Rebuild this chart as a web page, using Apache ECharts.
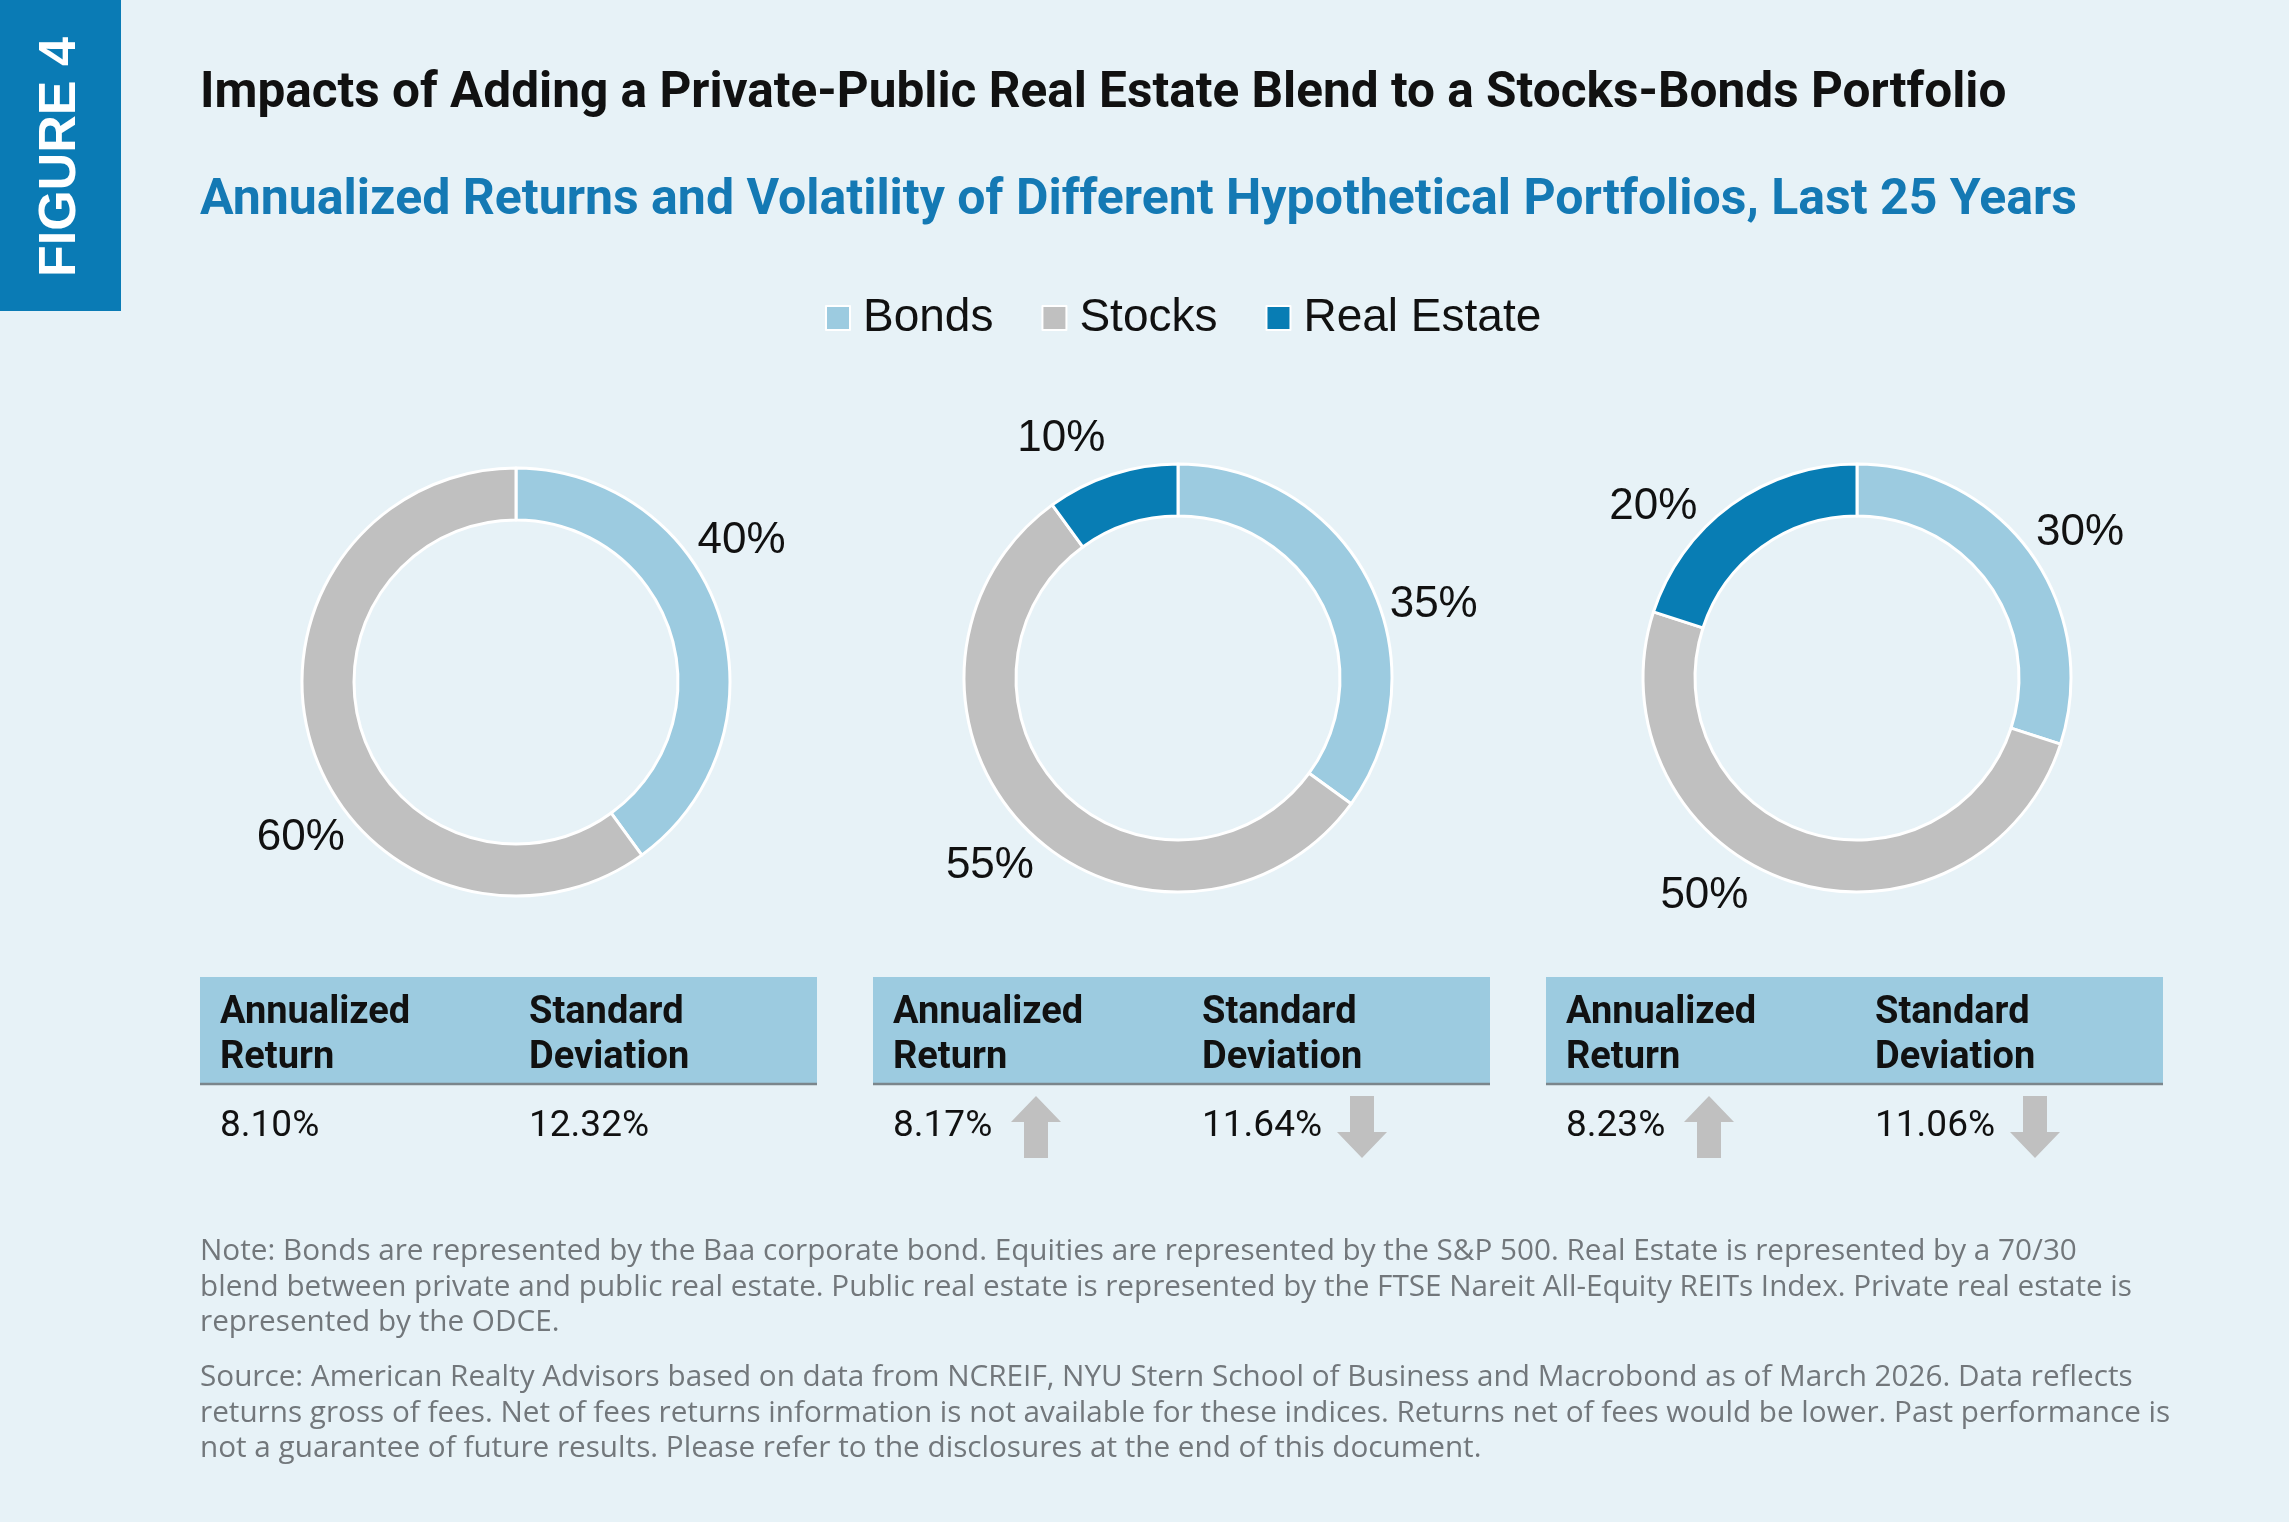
<!DOCTYPE html>
<html>
<head>
<meta charset="utf-8">
<script src="https://cdn.jsdelivr.net/npm/echarts@6/dist/echarts.min.js"></script>
<style>
html,body{margin:0;padding:0;background:#e7f2f7;}
#chart{width:2289px;height:1522px;}
</style>
</head>
<body>
<div id="chart"></div>
<script>
// ---------------- DATA ----------------
const categories = ['Bonds', 'Stocks', 'Real Estate'];
const portfolioNames = ['Stocks-Bonds', 'Stocks-Bonds-Real Estate 10%', 'Stocks-Bonds-Real Estate 20%'];
const bondsWeight = [40, 35, 30];
const stocksWeight = [60, 55, 50];
const realEstateWeight = [0, 10, 20];
const annualizedReturn = [8.10, 8.17, 8.23];
const standardDeviation = [12.32, 11.64, 11.06];
const tableHeaders = [['Annualized', 'Return'], ['Standard', 'Deviation']];

const figureLabel = 'FIGURE 4';
const titleText = 'Impacts of Adding a Private-Public Real Estate Blend to a Stocks-Bonds Portfolio';
const subtitleText = 'Annualized Returns and Volatility of Different Hypothetical Portfolios, Last 25 Years';
const noteLines = [
  'Note: Bonds are represented by the Baa corporate bond. Equities are represented by the S&P 500. Real Estate is represented by a 70/30',
  'blend between private and public real estate. Public real estate is represented by the FTSE Nareit All-Equity REITs Index. Private real estate is',
  'represented by the ODCE.'
];
const sourceLines = [
  'Source: American Realty Advisors based on data from NCREIF, NYU Stern School of Business and Macrobond as of March 2026. Data reflects',
  'returns gross of fees. Net of fees returns information is not available for these indices. Returns net of fees would be lower. Past performance is',
  'not a guarantee of future results. Please refer to the disclosures at the end of this document.'
];

// ---------------- STYLE / LAYOUT ----------------
const colors = { 'Bonds': '#9ccbe0', 'Stocks': '#c0c0c0', 'Real Estate': '#087db4' };
const weights = { 'Bonds': bondsWeight, 'Stocks': stocksWeight, 'Real Estate': realEstateWeight };
const BG = '#e7f2f7';
const BLUE = '#0a7bb5';
const pieCenters = [[516, 682], [1178, 678], [1857, 678]];
const innerR = 162, outerR = 214, labelR = 266;
// small angular nudges (degrees) of each percentage label from its slice's mid-angle
const labelNudge = {
  'Bonds': [-14, 11, 3],
  'Stocks': [-18, 0, 17],
  'Real Estate': [0, -8, -14]
};
const tableLeft = [200, 873, 1546];
const tableWidth = 617;
const tableTop = 977, tableBottom = 1084;

// font fitting helpers
const cv = document.createElement('canvas').getContext('2d');
function textW(t, font) { cv.font = font; return cv.measureText(t).width; }
function fit(t, weight, fam, target) { return 100 * target / textW(t, weight + ' 100px ' + fam); }
const titleFam = 'Roboto';
const titleSize = Math.min(50, fit(titleText, '700', titleFam, 1807));
const subSize = Math.min(50, fit(subtitleText, '700', titleFam, 1880));
const noteFam = '"Open Sans"';
const noteSize = Math.min(32, fit(noteLines[1], '400', noteFam, 1933));

// ---------------- SERIES ----------------
const series = [];
portfolioNames.forEach((pname, i) => {
  const data = categories
    .map(c => ({ name: c, value: weights[c][i], itemStyle: { color: colors[c] } }))
    .filter(d => d.value > 0);
  const total = data.reduce((s, d) => s + d.value, 0);
  // mid-angle (deg, clockwise from 12 o'clock) of every slice, derived from the data
  let acc = 0;
  const midAngles = data.map(d => { const m = (acc + d.value / 2) / total * 360; acc += d.value; return m; });
  const cx = pieCenters[i][0], cy = pieCenters[i][1];
  series.push({
    type: 'pie', name: pname, center: pieCenters[i], radius: [innerR, outerR],
    startAngle: 90, clockwise: true, avoidLabelOverlap: false,
    itemStyle: { borderColor: '#ffffff', borderWidth: 3 },
    label: {
      show: true, position: 'inside', formatter: p => p.value + '%',
      fontSize: 44, fontFamily: '"Liberation Sans", Arial, sans-serif', color: '#111111'
    },
    labelLine: { show: false },
    labelLayout: function (params) {
      const d = data[params.dataIndex];
      const a = (midAngles[params.dataIndex] + labelNudge[d.name][i]) * Math.PI / 180;
      return { x: cx + labelR * Math.sin(a), y: cy - labelR * Math.cos(a), align: 'center', verticalAlign: 'middle' };
    },
    emphasis: { disabled: true }, silent: true,
    data: data
  });
});

// ---------------- GRAPHICS (figure tab, tables, notes) ----------------
const graphics = [];
graphics.push({ type: 'rect', shape: { x: 0, y: 0, width: 121, height: 311 }, style: { fill: BLUE }, silent: true });
graphics.push({
  type: 'text', x: 61, y: 157, rotation: Math.PI / 2, silent: true,
  style: { text: figureLabel, fill: '#ffffff', font: '700 52px "Liberation Sans", Arial, sans-serif',
    align: 'center', verticalAlign: 'middle' }
});

function arrow(cx, top, bottom, up) {
  const hw = 25, sw = 12, hh = 26;
  let pts;
  if (up) {
    pts = [[cx, top], [cx + hw, top + hh], [cx + sw, top + hh], [cx + sw, bottom], [cx - sw, bottom], [cx - sw, top + hh], [cx - hw, top + hh]];
  } else {
    pts = [[cx, bottom], [cx + hw, bottom - hh], [cx + sw, bottom - hh], [cx + sw, top], [cx - sw, top], [cx - sw, bottom - hh], [cx - hw, bottom - hh]];
  }
  return { type: 'polygon', shape: { points: pts }, style: { fill: '#c0c0c0' }, silent: true };
}

portfolioNames.forEach((pname, i) => {
  const L = tableLeft[i];
  graphics.push({ type: 'rect', shape: { x: L, y: tableTop, width: tableWidth, height: tableBottom - tableTop }, style: { fill: '#9ccbe0' }, silent: true });
  graphics.push({ type: 'line', shape: { x1: L, y1: tableBottom, x2: L + tableWidth, y2: tableBottom }, style: { stroke: '#7b868c', lineWidth: 2.5 }, silent: true });
  const cols = [L + 20, L + 329];
  tableHeaders.forEach((hdr, k) => {
    hdr.forEach((line, j) => {
      graphics.push({
        type: 'text', x: cols[k], y: 1013 + j * 45, silent: true,
        style: { text: line, fill: '#111111', font: '700 38px Roboto, sans-serif', align: 'left', verticalAlign: 'middle' }
      });
    });
  });
  const vals = [annualizedReturn[i].toFixed(2) + '%', standardDeviation[i].toFixed(2) + '%'];
  vals.forEach((v, k) => {
    graphics.push({
      type: 'text', x: cols[k], y: 1127, silent: true,
      style: { text: v, fill: '#111111', font: '400 37px Roboto, sans-serif', align: 'left', verticalAlign: 'middle' }
    });
  });
  if (i > 0) {
    const dRet = annualizedReturn[i] - annualizedReturn[0];
    const dStd = standardDeviation[i] - standardDeviation[0];
    if (dRet !== 0) graphics.push(arrow(cols[0] + 143, 1096, 1158, dRet > 0));
    if (dStd !== 0) graphics.push(arrow(cols[1] + 160, 1096, 1158, dStd > 0));
  }
});

const noteColor = '#72777b';
const noteFont = '400 ' + noteSize.toFixed(1) + 'px ' + noteFam + ', Roboto, sans-serif';
noteLines.forEach((t, j) => {
  graphics.push({ type: 'text', x: 200, y: 1252 + j * 35.5, silent: true,
    style: { text: t, fill: noteColor, font: noteFont, align: 'left', verticalAlign: 'middle' } });
});
sourceLines.forEach((t, j) => {
  graphics.push({ type: 'text', x: 200, y: 1378 + j * 35.5, silent: true,
    style: { text: t, fill: noteColor, font: noteFont, align: 'left', verticalAlign: 'middle' } });
});

// ---------------- CHART ----------------
const chart = echarts.init(document.getElementById('chart'), null, { renderer: 'canvas' });
chart.setOption({
  backgroundColor: BG,
  animation: false,
  title: [
    { text: titleText, left: 200, top: 95 - titleSize / 2, padding: 0,
      textStyle: { fontSize: titleSize, fontWeight: 'bold', fontFamily: titleFam, color: '#111111', lineHeight: titleSize } },
    { text: subtitleText, left: 200, top: 201 - subSize / 2, padding: 0,
      textStyle: { fontSize: subSize, fontWeight: 'bold', fontFamily: titleFam, color: '#1479b4', lineHeight: subSize } }
  ],
  legend: {
    data: categories.map(c => ({ name: c, itemStyle: { color: colors[c] } })),
    left: 825, top: 318 - 26, padding: 0, orient: 'horizontal',
    icon: 'rect', itemWidth: 24, itemHeight: 24, itemGap: 48,
    selectedMode: false,
    textStyle: { fontSize: 46, fontFamily: '"Liberation Sans", Arial, sans-serif', color: '#111111', lineHeight: 52, padding: [0, 0, 0, 8] }
  },
  series: series,
  graphic: { elements: graphics }
});
</script>
</body>
</html>
